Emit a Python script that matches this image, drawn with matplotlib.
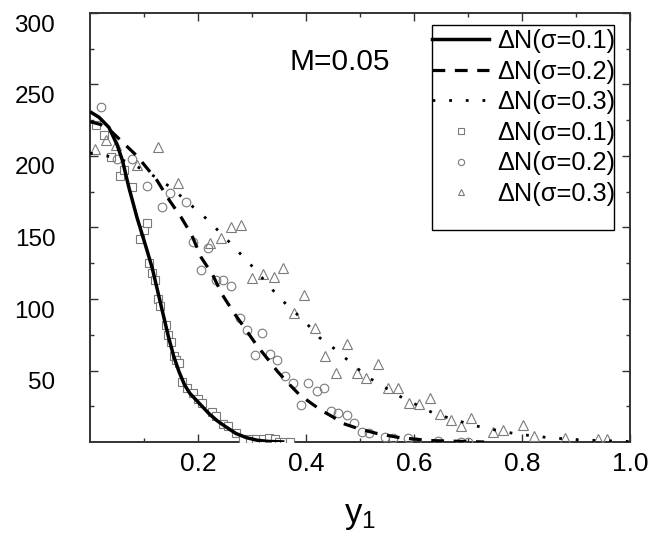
import matplotlib
matplotlib.use("Agg")
import matplotlib.pyplot as plt
import matplotlib.transforms as mtransforms
from matplotlib.lines import Line2D
from matplotlib.patches import Rectangle

plt.rcParams['font.family'] = ['Liberation Sans', 'DejaVu Sans']

# ---- data ----
line1_x = [0, 0.017, 0.035, 0.05, 0.06, 0.072, 0.087, 0.104, 0.115, 0.125, 0.135, 0.145, 0.155, 0.165, 0.175, 0.185, 0.195, 0.2, 0.21, 0.22, 0.235, 0.25, 0.27, 0.29, 0.31, 0.33, 0.36]
line1_y = [231, 227, 220, 208, 197, 178, 157, 136, 122, 106, 90, 74, 60, 49, 40, 34, 30, 28, 24, 20, 15, 11, 6, 3, 1.2, 0.4, 0]

line2_x = [0.0, 0.02, 0.04, 0.087, 0.124, 0.147, 0.169, 0.188, 0.206, 0.227, 0.245, 0.267, 0.286, 0.308, 0.327, 0.348, 0.37, 0.388, 0.41, 0.429, 0.45, 0.468, 0.5, 0.531, 0.574, 0.63, 0.73]
line2_y = [224, 222, 217, 200, 183, 169, 157, 145, 129, 117, 103, 90, 80, 68, 59, 49, 40, 33, 27, 22, 17.5, 13, 9, 6, 3, 1, 0]

line3_x = [0, 0.032, 0.07, 0.11, 0.15, 0.18, 0.213, 0.245, 0.275, 0.305, 0.334, 0.364, 0.396, 0.425, 0.457, 0.487, 0.516, 0.578, 0.637, 0.698, 0.728, 0.79, 0.85, 0.91, 0.97, 1.0]
line3_y = [202, 200, 196, 188, 178, 168, 157, 145, 133, 121, 108, 96, 85, 73, 64, 54, 45, 31, 20, 13, 10, 5.6, 3, 1.4, 0.7, 0.3]

sq_x = [0.011, 0.026, 0.039, 0.056, 0.063, 0.078, 0.093, 0.1, 0.106, 0.11, 0.115, 0.12, 0.125, 0.13, 0.14, 0.145, 0.15, 0.155, 0.16, 0.165, 0.17, 0.18, 0.19, 0.2, 0.208, 0.226, 0.234, 0.247, 0.256, 0.27, 0.283, 0.297, 0.308, 0.321, 0.332, 0.342, 0.35, 0.36, 0.37]
sq_y = [222, 215, 199, 186, 190, 178, 142, 148, 153, 125, 118, 113, 100, 95, 82, 75, 70, 60, 57, 55, 42, 38, 34, 30, 27, 21, 18, 12.6, 11, 6.3, 2, 2, 2, 2, 3, 2, 0, 0, 0]

ci_x = [0.02, 0.05, 0.078, 0.106, 0.134, 0.149, 0.178, 0.191, 0.206, 0.219, 0.234, 0.247, 0.262, 0.277, 0.291, 0.305, 0.319, 0.334, 0.347, 0.362, 0.375, 0.39, 0.403, 0.42, 0.433, 0.447, 0.46, 0.475, 0.488, 0.503, 0.516, 0.546, 0.561, 0.589, 0.603, 0.645, 0.687, 0.7]
ci_y = [234, 198, 198, 179, 164, 174, 168, 140, 120, 136, 113, 113, 109, 87, 78, 61, 76, 61.5, 57, 46, 41, 26, 41, 36, 38, 22, 20, 19, 13, 7, 6.3, 3.5, 2.8, 2.8, 0, 0.7, 0, 0]

tr_x = [0.01, 0.03, 0.048, 0.087, 0.126, 0.163, 0.223, 0.243, 0.262, 0.28, 0.3, 0.32, 0.34, 0.358, 0.377, 0.397, 0.416, 0.436, 0.455, 0.475, 0.494, 0.512, 0.533, 0.552, 0.57, 0.59, 0.609, 0.63, 0.648, 0.668, 0.687, 0.706, 0.746, 0.765, 0.802, 0.822, 0.88, 0.94, 0.958]
tr_y = [205, 211, 208, 194, 206, 181, 139, 143, 150, 152, 115, 117.5, 115.5, 121.7, 90, 103, 80, 60, 48, 68.5, 48, 45, 54.5, 38, 38, 27, 26.6, 30.8, 19.6, 15.4, 11, 16.8, 7, 8.4, 11.9, 4.2, 2.8, 2, 2]

labels = ['ΔN(σ=0.1)', 'ΔN(σ=0.2)', 'ΔN(σ=0.3)', 'ΔN(σ=0.1)', 'ΔN(σ=0.2)', 'ΔN(σ=0.3)']
xticks = [0.2, 0.4, 0.6, 0.8, 1.0]
yticks = [50, 100, 150, 200, 250, 300]

# ---- figure ----
W, H = 666, 535
fig = plt.figure(figsize=(W / 100, H / 100), dpi=100)
ax = fig.add_axes([90 / W, 1 - 442 / H, (630 - 90) / W, (442 - 13) / H])

gray = '#7a7a7a'
ax.plot(sq_x, sq_y, linestyle='none', marker='s', ms=5.5, mfc='white', mec=gray, mew=0.8, zorder=3)
ax.plot(ci_x, ci_y, linestyle='none', marker='o', ms=6.2, mfc='none', mec=gray, mew=0.8, zorder=3)
ax.plot(tr_x, tr_y, linestyle='none', marker='^', ms=7, mfc='none', mec=gray, mew=0.8, zorder=3)

ax.plot(line1_x, line1_y, color='black', lw=2.5, solid_capstyle='butt', zorder=4)
ax.plot(line2_x, line2_y, color='black', lw=2.3, linestyle=(0, (4, 3)), zorder=4)
ax.plot(line3_x, line3_y, color='black', lw=2.0, linestyle=(0, (1, 5)), zorder=4)

ax.set_xlim(0, 1.0)
ax.set_ylim(0, 300)
ax.set_xticks(xticks)
ax.set_xticks([0.1, 0.3, 0.5, 0.7, 0.9], minor=True)
ax.set_xticklabels(['0.2', '0.4', '0.6', '0.8', '1.0'])
ax.set_yticks(yticks)
ax.set_yticks([25, 75, 125, 175, 225, 275], minor=True)
ax.set_yticklabels([str(v) for v in yticks])

for s in ax.spines.values():
    s.set_linewidth(1.4)
    s.set_color('#333333')

ax.tick_params(which='both', direction='in', top=True, right=True, color='#333333', width=1.0)
ax.tick_params(which='major', length=6)
ax.tick_params(which='minor', length=3)
ax.tick_params(axis='x', which='major', labelsize=19, pad=7)
ax.tick_params(axis='y', which='major', labelsize=17.5, pad=25)

# y tick labels sit slightly lower than their ticks in the reference
off = mtransforms.ScaledTranslation(0, -10 / 100, fig.dpi_scale_trans)
for lab in ax.get_yticklabels():
    lab.set_transform(lab.get_transform() + off)

ax.set_xlabel(r'$\mathregular{y_1}$', fontsize=25, labelpad=17)

ax.text(0.463, 0.885, 'M=0.05', transform=ax.transAxes, fontsize=21.5, ha='center', va='center')

handles = [
    Line2D([], [], color='black', lw=2.5),
    Line2D([], [], color='black', lw=2.3, linestyle=(0, (4, 3))),
    Line2D([], [], color='black', lw=2.0, linestyle=(0, (1, 5))),
    Line2D([], [], linestyle='none', marker='s', ms=4, mfc='white', mec=gray, mew=0.8),
    Line2D([], [], linestyle='none', marker='o', ms=4.5, mfc='none', mec=gray, mew=0.8),
    Line2D([], [], linestyle='none', marker='^', ms=5, mfc='none', mec=gray, mew=0.8),
]
leg = fig.legend(handles, labels, loc='upper left',
                 bbox_to_anchor=(432 / W, 1 - 29 / H), bbox_transform=fig.transFigure,
                 fontsize=18.3, frameon=False,
                 handlelength=2.25, handletextpad=0.3, borderpad=0.0, borderaxespad=0,
                 labelspacing=0.26)

# legend frame (text nearly touches the right edge, extra blank space at bottom)
fig.add_artist(Rectangle((432 / W, 1 - 230 / H), (614 - 432) / W, (230 - 25) / H,
                         transform=fig.transFigure, facecolor='none', edgecolor='black',
                         linewidth=1.0, zorder=5))

fig.savefig('out.png', dpi=100)
